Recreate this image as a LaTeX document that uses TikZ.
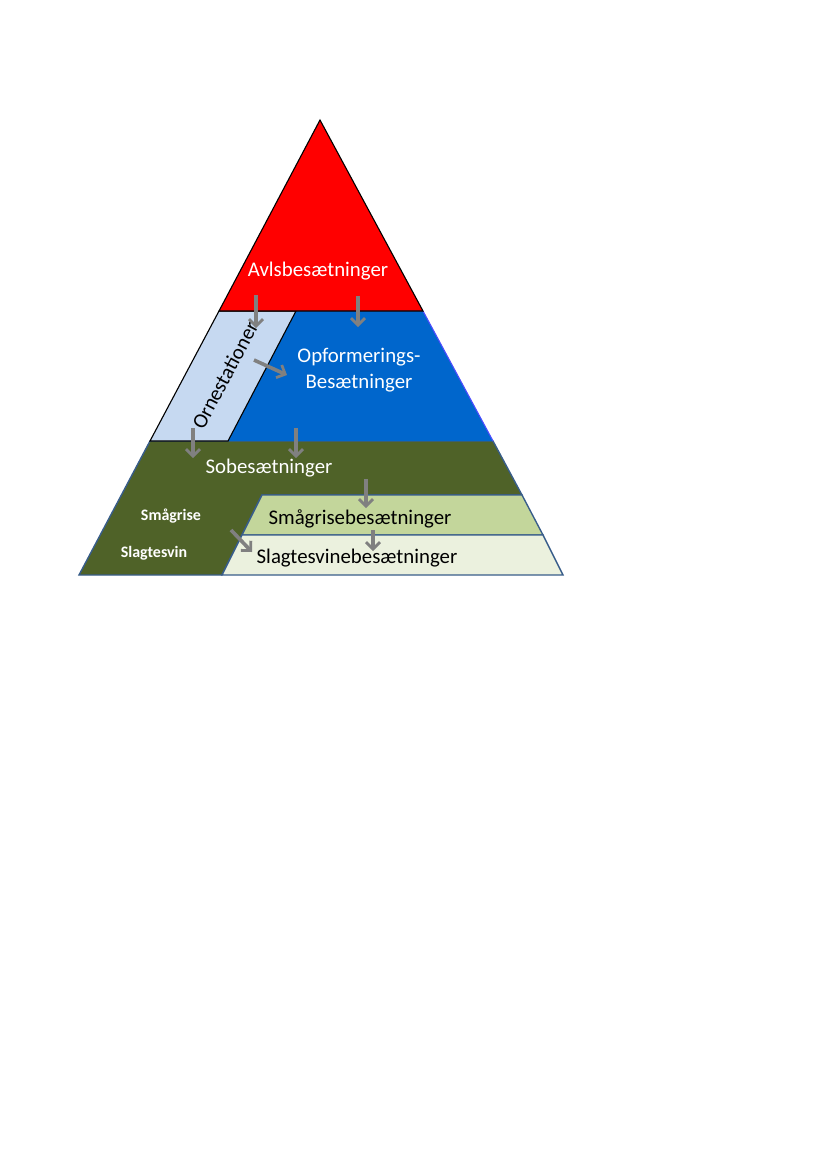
\documentclass[tikz,border=0pt]{standalone}
\usepackage{fontspec}
\setmainfont{Carlito}
\usetikzlibrary{arrows.meta}
\definecolor{avlred}{HTML}{FF0000}
\definecolor{opfblue}{HTML}{0066CC}
\definecolor{ornblue}{HTML}{C6D9F1}
\definecolor{soolive}{HTML}{4F6228}
\definecolor{smalight}{HTML}{C3D69B}
\definecolor{slalight}{HTML}{EBF1DE}
\definecolor{edgeblue}{HTML}{385D8A}
\definecolor{flowgray}{HTML}{808080}

\begin{document}
\begin{tikzpicture}[x=0.72pt,y=-0.72pt,
  flow/.style={-{Straight Barb[length=5pt,width=10pt,line width=2pt]}, line width=2.6pt, flowgray},
  lbl/.style={font=\fontsize{15}{18.5}\selectfont, inner sep=0pt},
  smalllbl/.style={font=\fontsize{11.5}{13}\selectfont\bfseries, text=white, inner sep=0pt}]
\useasboundingbox (0,0) rectangle (827,1169);
% Sobesaetninger (olive block, bottom left)
\filldraw[fill=soolive, draw=edgeblue, line width=1pt] (150,441) -- (493,441) -- (522,495) -- (262,495) -- (222,575) -- (79,575) -- cycle;
% Smaagrise- and slagtesvinebesaetninger
\filldraw[fill=smalight, draw=edgeblue, line width=1pt] (262,495) -- (522,495) -- (543,535) -- (242,535) -- cycle;
\filldraw[fill=slalight, draw=edgeblue, line width=1pt] (242,535) -- (543,535) -- (563,575) -- (222,575) -- cycle;
% Opformeringsbesaetninger (blue trapezoid)
\fill[opfblue] (296,311) -- (423,311) -- (493,441) -- (228,441) -- cycle;
\draw[blue!70!white, line width=0.8pt] (423,311) -- (493,441);
% Ornestationer (parallelogram)
\filldraw[fill=ornblue, draw=black, line width=0.8pt] (219,311) -- (296,311) -- (228,441) -- (150,441) -- cycle;
% Avlsbesaetninger (top triangle)
\filldraw[fill=avlred, draw=black, line width=0.8pt] (320,120) -- (423,311) -- (219,311) -- cycle;
% Labels
\node[lbl, text=white] (avl) at (318,271) {Avlsbesætninger};
\node[lbl, text=white, align=center] (opf) at (359,370) {Opformerings-\\Besætninger};
\node[lbl, text=black, rotate=62] (orn) at (225,375) {Ornestationer};
\node[lbl, text=white] (soo) at (269,468) {Sobesætninger};
\node[lbl, text=black] (sma) at (360,519) {Smågrisebesætninger};
\node[lbl, text=black] (sla) at (357,558) {Slagtesvinebesætninger};
\node[smalllbl] (smagr) at (171,516) {Smågrise};
\node[smalllbl] (slagt) at (154,553) {Slagtesvin};
% Flow arrows
\coordinate (a1) at (256,295); \coordinate (b1) at (256,328);
\coordinate (a2) at (358,296); \coordinate (b2) at (358,327);
\coordinate (a3) at (254,360); \coordinate (b3) at (287,375);
\coordinate (a4) at (193,428); \coordinate (b4) at (193,458);
\coordinate (a5) at (296,428); \coordinate (b5) at (296,458);
\coordinate (a6) at (366,479); \coordinate (b6) at (366,508);
\coordinate (a7) at (373,530); \coordinate (b7) at (373,551);
\coordinate (a8) at (231,530); \coordinate (b8) at (252,552);
\foreach \i in {1,...,8}
  \draw[flow] (a\i) -- (b\i);
\end{tikzpicture}
\end{document}
